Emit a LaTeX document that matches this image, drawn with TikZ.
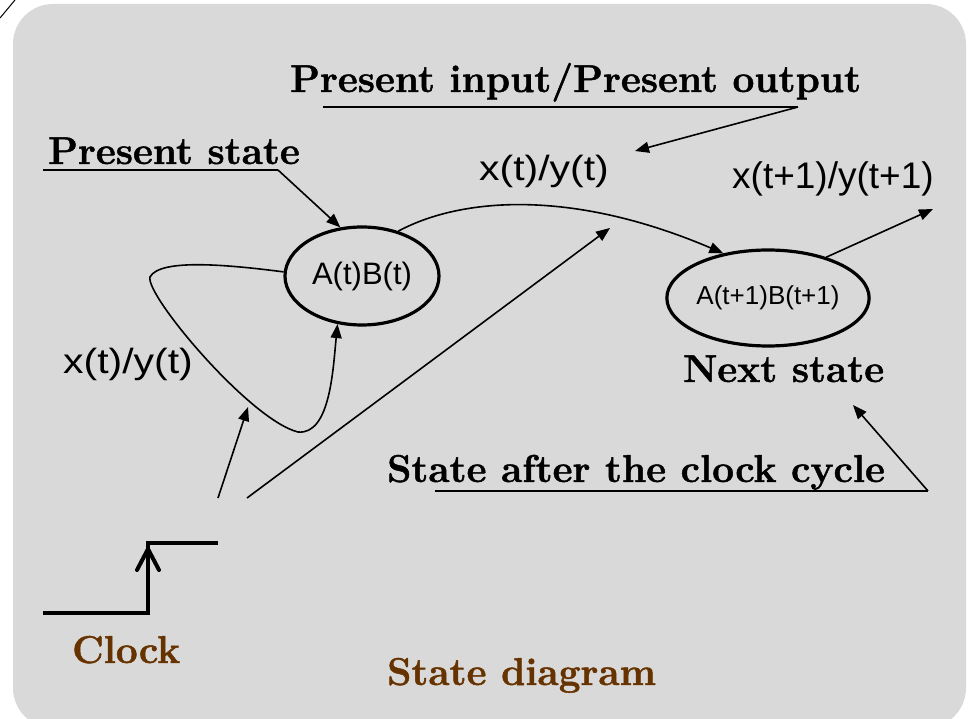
\documentclass[tikz,border=0pt]{standalone}
\usepackage{fontspec}
\setmainfont{Latin Modern Roman}[BoldFeatures={FakeBold=1.2}]
\newfontfamily\arialfont{Liberation Sans}
\newfontfamily\arialwide[FakeStretch=1.17]{Liberation Sans}
\usetikzlibrary{arrows.meta,shapes.geometric}
\definecolor{slidegray}{RGB}{217,217,217}
\definecolor{clockbrown}{RGB}{102,51,0}

\begin{document}
\begin{tikzpicture}[x=1pt,y=-1pt,
  lbl/.style={anchor=base west,inner sep=0pt,font=\fontsize{38.8}{40}\selectfont\bfseries},
  sig/.style={anchor=base west,inner sep=0pt},
  stt/.style={draw,ellipse,line width=3.2pt,inner sep=0pt},
  conn/.style={line width=1.6pt,-{Triangle[length=14pt,width=11pt]}},
  note/.style={line width=1.6pt}]

\useasboundingbox (0,0) rectangle (970,719);

% === Slide background ===
\fill[slidegray, rounded corners=40pt] (13,4) rectangle (966,728);
\draw[line width=1pt] (0,18) -- (15,0);

% === States ===
\node[stt, minimum width=154pt, minimum height=98pt] (stA) at (362,276)
  {\arialfont\fontsize{31}{33}\selectfont A(t)B(t)};
\node[stt, minimum width=174pt, minimum height=96pt] (stB) at (768,298)
  {\arialfont\fontsize{26}{28}\selectfont A(t+1)B(t+1)};

% === Labels ===
\node[lbl] (pio) at (290,92) {Present input/Present output};
\node[lbl] (ps) at (48,164) {Present state};
\node[lbl] (ns) at (683,382) {Next state};
\node[lbl] (sac) at (387,482) {State after the clock cycle};
\node[lbl, text=clockbrown] (sd) at (387,685) {State diagram};
\node[lbl, text=clockbrown] (clk) at (72,663) {Clock};

\node[sig, font=\arialwide\fontsize{35}{38}\selectfont] (xyL) at (63,374) {x(t)/y(t)};
\node[sig, font=\arialwide\fontsize{35}{38}\selectfont] (xyT) at (479,181) {x(t)/y(t)};
\node[sig, font=\arialfont\fontsize{37}{40}\selectfont] (xyN) at (732,189) {x(t+1)/y(t+1)};

% free ends
\coordinate (pioL) at (323,107);
\coordinate (pioR) at (798,107);
\coordinate (pioTip) at (635,151);
\coordinate (psL) at (43,170);
\coordinate (psR) at (278,170);
\coordinate (sacL) at (435,491);
\coordinate (sacR) at (928,491);
\coordinate (nsTip) at (853,405);
\coordinate (outTip) at (933,209);
\coordinate (clkA) at (218,498);
\coordinate (clkB) at (247,498);
\coordinate (loopP) at (248,407);
\coordinate (inTip) at (610,228);

% === Callout lines ===
\draw[note] (pioL) -- (pioR);
\draw[conn] (pioR) -- (pioTip);
\draw[note] (psL) -- (psR);
\draw[conn] (psR) -- (stA.114);
\draw[note] (sacL) -- (sacR);
\draw[conn] (sacR) -- (nsTip);

% === Transitions ===
% self loop on A(t)B(t)
\draw[conn] (stA.177) .. controls (230,265) and (160,258) .. (150,277)
  .. controls (145,295) and (250,420) .. (298,432)
  .. controls (330,435) and (333,370) .. (stA.243);
% A(t)B(t) to A(t+1)B(t+1)
\draw[conn] (stA.51) .. controls (460,198) and (570,188) .. (stB.135);
% output of next state
\draw[conn] (stB.35) -- (outTip);

% clock arrows
\draw[conn] (clkA) -- (loopP);
\draw[conn] (clkB) -- (inTip);

% === Clock edge ===
\draw[line width=4pt] (43,613) -- (148,613) -- (148,543) -- (218,543);
\draw[line width=4pt, line cap=round, line join=round] (137,570) -- (148,549) -- (159,570);

\end{tikzpicture}
\end{document}
